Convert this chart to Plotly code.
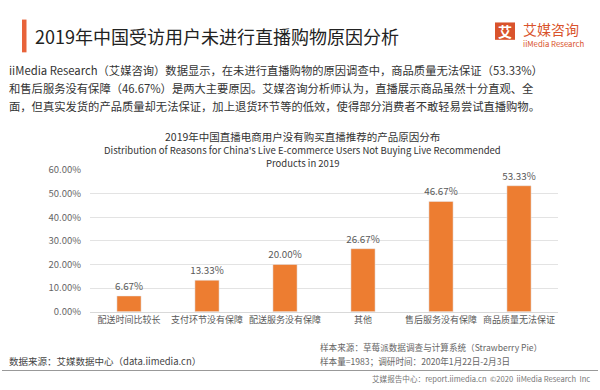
import plotly.graph_objects as go

categories = ["配送时间比较长", "支付环节没有保障", "配送服务没有保障", "其他", "售后服务没有保障", "商品质量无法保证"]
values = [0.0667, 0.1333, 0.2000, 0.2667, 0.4667, 0.5333]
tick_vals = [0, 0.1, 0.2, 0.3, 0.4, 0.5, 0.6]

W, H = 600, 390
FONT = "Noto Sans CJK SC"
ORANGE = "#ED7D31"

def px(x):
    return x / W

def py(y):
    return 1 - y / H

fig = go.Figure()
fig.add_trace(go.Bar(
    x=categories, y=values, marker_color=ORANGE, width=0.31,
    text=[f"{v*100:.2f}%" for v in values], textposition="outside", constraintext="none",
    textfont=dict(size=9.8, color="#595959", family=FONT), cliponaxis=False,
))

ann = []
def A(x, y, text, size, color="#333", xanchor="left", yanchor="middle"):
    ann.append(dict(x=px(x), y=py(y), xref="paper", yref="paper", text=text, showarrow=False,
                    xanchor=xanchor, yanchor=yanchor, font=dict(size=size, color=color, family=FONT)))

A(33, 29, "2019年中国受访用户未进行直播购物原因分析", 18, "#222")
A(521, 22, "艾媒咨询", 14, "#D9532C")
A(521, 37, "iiMedia Research", 7.8, "#D9532C")
A(505, 24, "<b>艾</b>", 14, "white", xanchor="center")
A(7, 64, "iiMedia Research（艾媒咨询）数据显示，在未进行直播购物的原因调查中，商品质量无法保证（53.33%）", 11.3, "#333")
A(7, 83, "和售后服务没有保障（46.67%）是两大主要原因。艾媒咨询分析师认为，直播展示商品虽然十分直观、全", 11.3, "#333")
A(7, 102, "面，但真实发货的产品质量却无法保证，加上退货环节等的低效，使得部分消费者不敢轻易尝试直播购物。", 11.3, "#333")
A(302, 133, "2019年中国直播电商用户没有购买直播推荐的产品原因分布", 10.5, "#333", xanchor="center")
A(302, 147, "Distribution of Reasons for China's Live E-commerce Users Not Buying Live Recommended", 9.5, "#333", xanchor="center")
A(302, 161, "Products in 2019", 9.5, "#333", xanchor="center")
A(7, 366, "数据来源：艾媒数据中心（data.iimedia.cn）", 9.5, "#444")
A(318, 352, "样本来源：草莓派数据调查与计算系统（Strawberry Pie）", 8.6, "#666")
A(318, 366, "样本量=1983；调研时间：2020年1月22日-2月3日", 8.6, "#666")
A(592, 384, "艾媒报告中心：report.iimedia.cn  ©2020  iiMedia Research  Inc", 7.6, "#777", xanchor="right")

shapes = [
    dict(type="rect", xref="paper", yref="paper", x0=px(22), x1=px(26.5), y0=py(46), y1=py(12),
         fillcolor="#E8633A", line_width=0),
    dict(type="rect", xref="paper", yref="paper", x0=px(495), x1=px(515), y0=py(33), y1=py(15),
         fillcolor="#D9532C", line_width=0),
    dict(type="line", xref="paper", yref="paper", x0=px(2), x1=px(598), y0=py(376), y1=py(376),
         line=dict(color="#999", width=1)),
]

fig.update_layout(
    width=W, height=H, margin=dict(l=0, r=0, t=0, b=0),
    paper_bgcolor="white", plot_bgcolor="white",
    font=dict(family=FONT, color="#595959"),
    showlegend=False, bargap=0.69,
    annotations=ann, shapes=shapes,
    xaxis=dict(domain=[px(90), px(558)], tickfont=dict(size=9, color="#595959"), tickangle=0,
               showline=True, linecolor="#d9d9d9", ticks="", fixedrange=True),
    yaxis=dict(domain=[py(315), py(168)], range=[0, 0.6], tickvals=tick_vals, tickformat=".2%",
               tickfont=dict(size=9.5, color="#666"), gridcolor="#e3e3e3", zeroline=False,
               showline=False, ticks="", ticklabelstandoff=8, fixedrange=True),
)

fig.write_html("out.html", config={"displayModeBar": False},
               post_script="document.body.style.margin='0';")
